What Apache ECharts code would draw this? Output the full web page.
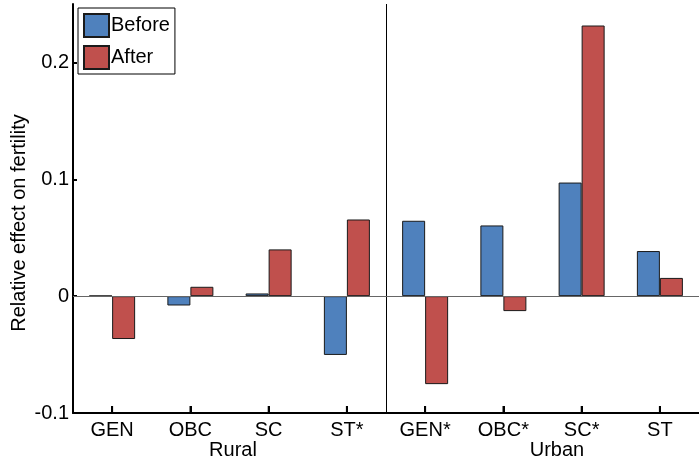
<!DOCTYPE html>
<html>
<head>
    <meta charset="utf-8">
    <title>Relative effect on fertility</title>
    <script src="https://cdn.jsdelivr.net/npm/echarts@6/dist/echarts.min.js"></script>
    <style>
        body { margin: 0; background: #fff; }
        #main { width: 699px; height: 463px; }
    </style>
</head>
<body>
<div id="main"></div>
<script type="text/javascript">
    // data
    var categories = ['GEN', 'OBC', 'SC', 'ST*', 'GEN*', 'OBC*', 'SC*', 'ST'];
    var beforeValues = [0.0003, -0.008, 0.0023, -0.0503, 0.0645, 0.0605, 0.0972, 0.0386];
    var afterValues = [-0.0367, 0.008, 0.040, 0.0656, -0.0753, -0.0128, 0.2316, 0.0156];
    var groupLabels = ['Rural', 'Urban'];
    var yMin = -0.1;
    var yMax = 0.25;

    var font = 'Liberation Sans, Arial, sans-serif';
    var myChart = echarts.init(document.getElementById('main'));

    // inward tick marks on the category axis, one per category at the axis minimum
    var tickMarks = categories.map(function () { return yMin; });

    var option = {
        animation: false,
        grid: { left: 73, right: -12, top: 4, bottom: 50 },
        legend: {
            orient: 'vertical',
            left: 78,
            top: 8,
            padding: [5, 5, 4, 5],
            itemGap: 7,
            itemWidth: 25,
            itemHeight: 23,
            borderColor: '#000',
            borderWidth: 1,
            borderRadius: 0,
            backgroundColor: '#fff',
            textStyle: { fontSize: 20, color: '#000', fontFamily: font, padding: [0, 0, 0, -3] },
            data: [{ name: 'Before', icon: 'rect' }, { name: 'After', icon: 'rect' }]
        },
        xAxis: {
            type: 'category',
            data: categories,
            axisLine: { onZero: false, lineStyle: { color: '#000', width: 2 } },
            axisTick: { show: true, inside: true, length: 7, alignWithLabel: true, lineStyle: { color: '#000', width: 2 } },
            axisLabel: { color: '#000', fontSize: 20, margin: 7, fontFamily: font }
        },
        yAxis: {
            type: 'value',
            min: yMin,
            max: yMax,
            interval: 0.1,
            axisLine: { show: true, lineStyle: { color: '#000', width: 2 } },
            axisTick: { show: true, inside: true, length: 4, lineStyle: { color: '#000', width: 2 } },
            axisLabel: { color: '#000', fontSize: 20, margin: 4, showMaxLabel: false, fontFamily: font },
            splitLine: { show: false }
        },
        graphic: [
            {
                type: 'text',
                x: 19, y: 223,
                rotation: Math.PI / 2,
                style: {
                    text: 'Relative effect on fertility',
                    fontSize: 20, fontFamily: font, fill: '#000',
                    align: 'center', verticalAlign: 'middle'
                }
            },
            {
                type: 'text',
                x: 233, y: 450,
                style: { text: groupLabels[0], fontSize: 20, fontFamily: font, fill: '#000', align: 'center', verticalAlign: 'middle' }
            },
            {
                type: 'text',
                x: 557, y: 450,
                style: { text: groupLabels[1], fontSize: 20, fontFamily: font, fill: '#000', align: 'center', verticalAlign: 'middle' }
            }
        ],
        series: [
            {
                name: 'Before',
                type: 'bar',
                data: beforeValues,
                barWidth: 23,
                barGap: '0%',
                itemStyle: { color: '#4F81BD', borderColor: '#1a1a1a', borderWidth: 1 },
                markLine: {
                    silent: true,
                    symbol: 'none',
                    label: { show: false },
                    lineStyle: { color: '#666', width: 1, type: 'solid' },
                    data: [{ yAxis: 0 }]
                }
            },
            {
                name: 'After',
                type: 'bar',
                data: afterValues,
                barWidth: 23,
                itemStyle: { color: '#C0504D', borderColor: '#1a1a1a', borderWidth: 1 }
            },
            {
                name: 'ticks',
                type: 'scatter',
                data: tickMarks,
                symbol: 'rect',
                symbolSize: [2, 7],
                symbolOffset: [0, -3.5],
                clip: false,
                silent: true,
                z: 5,
                itemStyle: { color: '#000' }
            }
        ]
    };

    myChart.setOption(option);

    // divider between the rural and urban groups
    var xa = myChart.convertToPixel({ xAxisIndex: 0 }, categories[3]);
    var xb = myChart.convertToPixel({ xAxisIndex: 0 }, categories[4]);
    var xMid = Math.round((xa + xb) / 2) + 0.5;
    var yTop = myChart.convertToPixel({ yAxisIndex: 0 }, yMax);
    var yBot = myChart.convertToPixel({ yAxisIndex: 0 }, yMin);
    option.graphic.push({
        type: 'line',
        z: 1,
        shape: { x1: xMid, y1: yTop, x2: xMid, y2: yBot },
        style: { stroke: '#000', lineWidth: 1 }
    });
    myChart.setOption({ graphic: option.graphic });
</script>
</body>
</html>
